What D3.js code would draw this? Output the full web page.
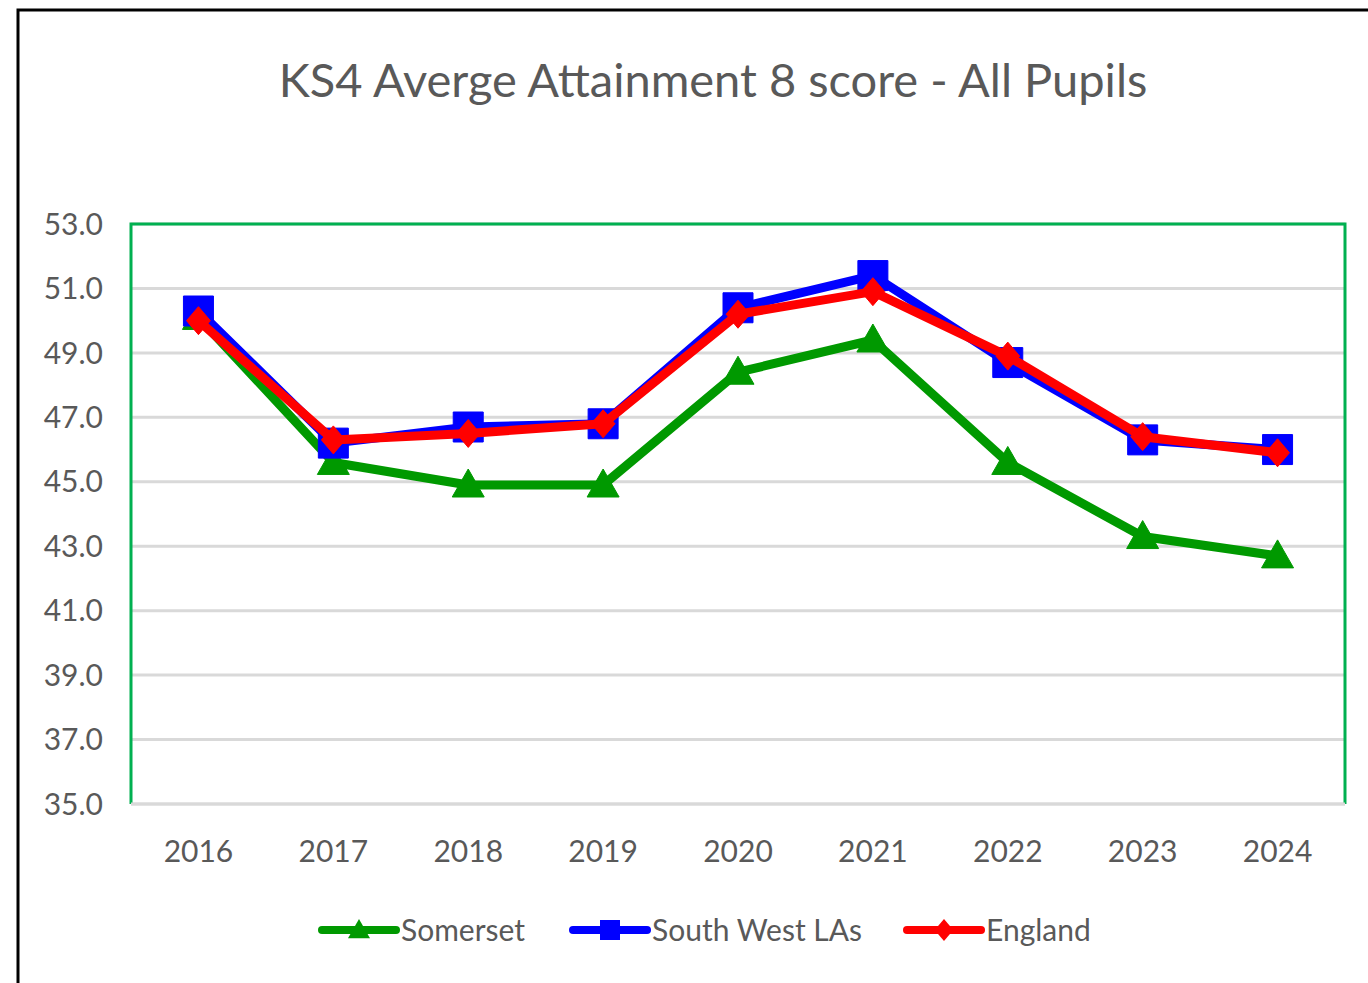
<!DOCTYPE html>
<html><head><meta charset="utf-8">
<script src="https://cdn.jsdelivr.net/npm/d3@7"></script>
<style>body{margin:0;background:#fff;}svg{display:block;font-family:Lato, "Open Sans", sans-serif;}</style>
</head><body><svg id="c" width="1368" height="983"></svg>
<script>
const years = ["2016","2017","2018","2019","2020","2021","2022","2023","2024"];
const somerset = [50.1, 45.6, 44.9, 44.9, 48.4, 49.4, 45.6, 43.3, 42.7];
const southWest = [50.3, 46.2, 46.7, 46.8, 50.4, 51.4, 48.7, 46.3, 46.0];
const england = [50.0, 46.3, 46.5, 46.8, 50.2, 50.9, 48.9, 46.4, 45.9];
const yTicks = [35, 37, 39, 41, 43, 45, 47, 49, 51, 53];
const seriesNames = ["Somerset", "South West LAs", "England"];
const seriesColors = ["#009900", "#0000ff", "#ff0000"];
const seriesShapes = ["triangle", "square", "diamond"];
const title = "KS4 Averge Attainment 8 score - All Pupils";

const svg = d3.select("#c");
const L = 131, R = 1345, T = 224, B = 804;
const x = d3.scaleBand().domain(years).range([L, R]);
const y = d3.scaleLinear().domain([35, 53]).range([B, T]);

svg.append("rect").attr("x", 18).attr("y", 10).attr("width", 1368).attr("height", 1000)
  .attr("fill", "#fff").attr("stroke", "#000").attr("stroke-width", 3);

svg.append("text").attr("x", 713).attr("y", 97).attr("text-anchor", "middle")
  .attr("font-size", 47).attr("fill", "#595959").text(title);

// gridlines
svg.append("g").selectAll("line").data(yTicks).join("line")
  .attr("x1", L).attr("x2", R).attr("y1", d => y(d)).attr("y2", d => y(d))
  .attr("stroke", "#d9d9d9").attr("stroke-width", 3);

// plot border green (left, top, right)
svg.append("path").attr("d", `M${L},${B}V${T}H${R}V${B}`).attr("fill", "none")
  .attr("stroke", "#00b050").attr("stroke-width", 3);
svg.append("line").attr("x1", L).attr("x2", R).attr("y1", B).attr("y2", B)
  .attr("stroke", "#d9d9d9").attr("stroke-width", 3);

// y axis labels
const yAxis = d3.axisLeft(y).tickValues(yTicks).tickFormat(d3.format(".1f")).tickSize(0).tickPadding(28);
const ga = svg.append("g").attr("transform", `translate(${L},0)`).call(yAxis);
ga.select(".domain").remove();
ga.selectAll("text").attr("font-size", 30).attr("fill", "#595959").attr("font-family", "Lato, sans-serif").attr("dy", "0.34em");

const xAxis = d3.axisBottom(x).tickSize(0).tickPadding(37);
const gx = svg.append("g").attr("transform", `translate(0,${B})`).call(xAxis);
gx.select(".domain").remove();
gx.selectAll("text").attr("font-size", 30).attr("fill", "#595959").attr("font-family", "Lato, sans-serif");

function shapePath(shape, s) {
  if (shape === "square") { const h = s / 2; return `M${-h},${-h}H${h}V${h}H${-h}Z`; }
  if (shape === "triangle") { const h = s / 2; return `M0,${-h}L${h},${h * 0.75}L${-h},${h * 0.75}Z`; }
  const h = s / 2; return `M0,${-h}L${h * 0.85},0L0,${h}L${-h * 0.85},0Z`;
}
const sizes = {triangle: 32, square: 30, diamond: 28};

const data = [somerset, southWest, england];
const line = d3.line().x((d, i) => x(years[i]) + x.bandwidth() / 2).y(d => y(d));
data.forEach((vals, k) => {
  const g = svg.append("g");
  g.append("path").datum(vals).attr("d", line).attr("fill", "none")
    .attr("stroke", seriesColors[k]).attr("stroke-width", 9).attr("stroke-linejoin", "round");
  g.selectAll("path.m").data(vals).join("path").attr("class", "m")
    .attr("transform", (d, i) => `translate(${x(years[i]) + x.bandwidth() / 2},${y(d)})`)
    .attr("d", shapePath(seriesShapes[k], sizes[seriesShapes[k]]))
    .attr("fill", seriesColors[k]).attr("stroke", seriesColors[k]).attr("stroke-width", 1).attr("stroke-linejoin", "round");
});

// legend
const legX = [320, 571, 905];
seriesNames.forEach((n, k) => {
  const g = svg.append("g").attr("transform", `translate(${legX[k]},930)`);
  g.append("line").attr("x1", 2).attr("x2", 76).attr("y1", 0).attr("y2", 0)
    .attr("stroke", seriesColors[k]).attr("stroke-width", 8).attr("stroke-linecap", "round");
  g.append("path").attr("transform", "translate(39,0)")
    .attr("d", shapePath(seriesShapes[k], seriesShapes[k] === "square" ? 20 : 22)).attr("fill", seriesColors[k]);
  g.append("text").attr("x", 81).attr("y", 11).attr("font-size", 30).attr("fill", "#595959").text(n);
});
</script></body></html>
